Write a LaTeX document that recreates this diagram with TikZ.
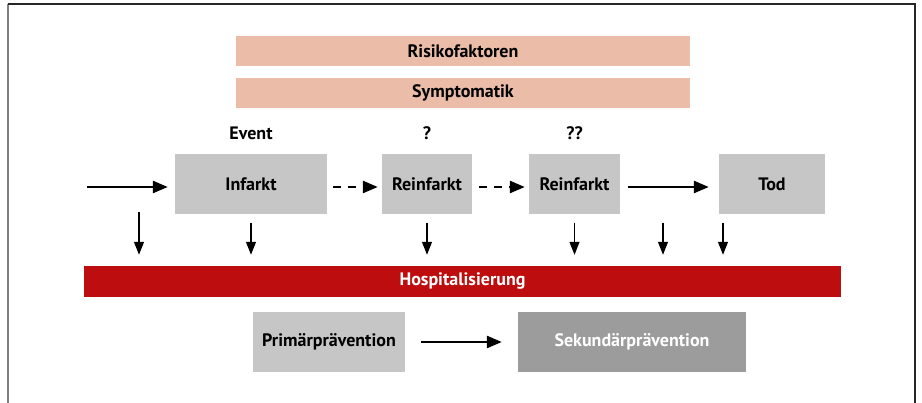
\documentclass[tikz,border=0pt]{standalone}
\usepackage{fontspec}
\setmainfont{PT Sans}
\usetikzlibrary{arrows.meta,positioning}

\definecolor{salmon}{HTML}{EBBCA8}
\definecolor{lightgray}{HTML}{C5C6C5}
\definecolor{darkgray}{HTML}{9C9C9C}
\definecolor{hospred}{HTML}{BE0D0E}

\begin{document}
\begin{tikzpicture}[
  x=1pt, y=-1pt, font=\fontsize{18}{20}\selectfont\bfseries,
  bigtip/.style={-{Triangle[length=15pt, width=12pt]}, line width=2.6pt},
  downtip/.style={-{Triangle[length=13pt, width=10pt]}, line width=1.2pt},
  box/.style={inner sep=0pt, minimum height=60pt, align=center},
  band/.style={inner sep=0pt, minimum height=30pt, minimum width=454pt, fill=salmon},
  event/.style={box, fill=lightgray}]
\useasboundingbox (0,0) rectangle (922,403);
% frame
\draw[line width=1.5pt, gray] (8,4) -- (8,403);
\draw[line width=1.5pt, black!85] (8,4) -- (915,4) -- (915,403);
% top bands
\node[band] (risk) at (463,51) {Risikofaktoren};
\node[band] (sym) at (463,93) {Symptomatik};
% course of events
\node[event, minimum width=152pt] (inf) at (251,184.5) {Infarkt};
\node[event, minimum width=90pt] (rein1) at (427,184.5) {Reinfarkt};
\node[event, minimum width=91pt] (rein2) at (574.5,184.5) {Reinfarkt};
\node[event, minimum width=106pt] (tod) at (772,184.5) {Tod};
\node[above=11pt of inf] (evt) {Event};
\node[above=11pt of rein1] (q1) {?};
\node[above=11pt of rein2] (q2) {??};
\coordinate (start) at (87,187);
\draw[bigtip, shorten >=7pt] (start) -- (start -| inf.west);
\draw[bigtip, dash pattern=on 8pt off 7pt, shorten <=6pt, shorten >=4pt] (inf.east |- start) -- (rein1.west |- start);
\draw[bigtip, dash pattern=on 8pt off 7pt, shorten <=7pt, shorten >=4pt] (rein1.east |- start) -- (rein2.west |- start);
\draw[bigtip, shorten <=8pt, shorten >=10pt] (rein2.east |- start) -- (tod.west |- start);
% hospital bar
\node[inner sep=0pt, minimum width=757pt, minimum height=31pt, fill=hospred, text=white] (hosp) at (462.5,281.5) {Hospitalisierung};
\coordinate (d0) at (139,212);
\coordinate (d4) at (663,223);
\coordinate (d5) at (723,223);
\draw[downtip, shorten >=11pt] (d0) -- (d0 |- hosp.north);
\draw[downtip, shorten <=8pt, shorten >=11pt] (inf.south) -- (inf.south |- hosp.north);
\draw[downtip, shorten <=8pt, shorten >=11pt] (rein1.south) -- (rein1.south |- hosp.north);
\draw[downtip, shorten <=8pt, shorten >=11pt] (rein2.south) -- (rein2.south |- hosp.north);
\draw[downtip, shorten >=11pt] (d4) -- (d4 |- hosp.north);
\draw[downtip, shorten >=11pt] (d5) -- (d5 |- hosp.north);
% prevention
\node[event, minimum width=152pt] (prim) at (329,342) {Primärprävention};
\node[box, fill=darkgray, text=white, minimum width=228pt] (sek) at (632,342) {Sekundärprävention};
\draw[bigtip, shorten <=16pt, shorten >=16pt] (prim) -- (sek);
\end{tikzpicture}
\end{document}
